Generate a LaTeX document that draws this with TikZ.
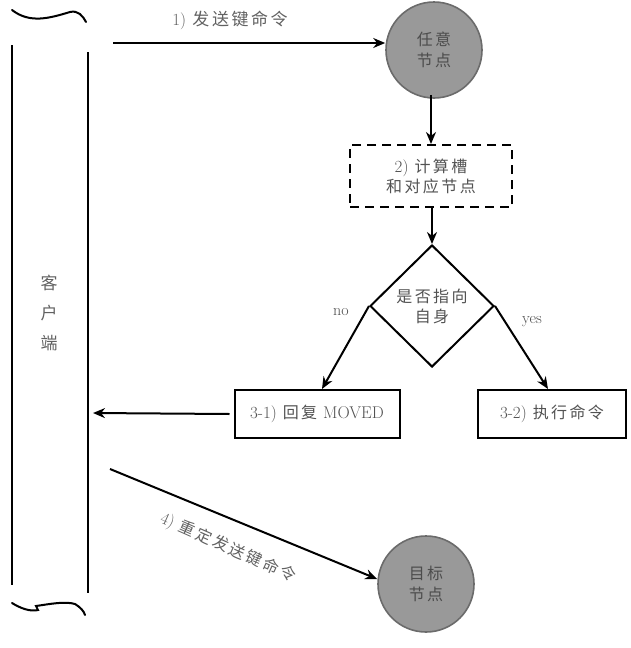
\documentclass[tikz,border=0pt]{standalone}
\usepackage{fontspec}
\newfontfamily\cjk{Noto Sans CJK SC}[LetterSpace=15]
\newcommand{\lat}[1]{{\rmfamily\fontsize{17}{20}\selectfont #1}}
\usetikzlibrary{shapes.geometric,arrows.meta}
\begin{document}
\begin{tikzpicture}[x=1pt,y=-1pt,
  line/.style={line width=2pt,black},
  arr/.style={line,-{Stealth[length=12pt,width=10pt]}},
  lbl/.style={text=black!62,font=\cjk\fontsize{16}{19}\selectfont,align=center},
  nodecirc/.style={circle,draw=black!58,line width=1.6pt,fill=black!40,minimum size=96pt,inner sep=0pt,text=black!70,font=\cjk\fontsize{16}{21}\selectfont,align=center},
  procbox/.style={draw,line width=2pt,minimum height=48pt,inner sep=2pt,text=black!68,font=\cjk\fontsize{16}{20}\selectfont,align=center},
  latin/.style={text=black!70,font=\rmfamily\fontsize{16}{18}\selectfont}]
\useasboundingbox (0,0) rectangle (631,648);
% client scroll
\node[minimum width=76pt,minimum height=548pt,inner sep=0pt] (client) at (50,319) {};
\draw[line] (12,45) -- (12,585);
\draw[line] (88,52) -- (88,593);
\draw[line,line cap=round] (12,10) .. controls (30,24) and (50,18) .. (70,12) .. controls (78,10) and (83,16) .. (86,22);
\draw[line,line cap=round] (12,603) .. controls (20,608) and (30,612) .. (38,610) -- (36,606) .. controls (50,604) and (65,601) .. (75,604) .. controls (80,607) and (84,611) .. (85,615);
\node[lbl,font=\cjk\fontsize{17}{30}\selectfont] at (49,313) {客\\户\\端};
% nodes
\node[nodecirc] (any) at (434,50) {任意\\节点};
\node[procbox,dashed,dash pattern=on 9pt off 6pt,minimum width=162pt,minimum height=62pt] (calc) at (431,176) {\lat{2)} 计算槽\\和对应节点};
\node[diamond,draw,line width=2pt,minimum width=124pt,minimum height=122pt,inner sep=0pt,text=black!68,font=\cjk\fontsize{16}{20}\selectfont,align=center] (dec) at (432,306) {是否指向\\自身};
\node[procbox,minimum width=165pt] (b31) at (317,414) {\lat{3-1)} 回复 \lat{MOVED}};
\node[procbox,minimum width=148pt] (b32) at (552,414) {\lat{3-2)} 执行命令};
\node[nodecirc] (target) at (426,584) {目标\\节点};
% connectors
\coordinate (c1) at (113,43);
\coordinate (c3) at (93,413);
\coordinate (c4) at (110,469);
\draw[arr] (c1) -- (any.west |- c1);
\node[lbl,font=\cjk\fontsize{17}{20}\selectfont] at (230,20) {\lat{1)} 发送键命令};
\draw[arr] ([yshift=4pt]any.south -| calc.north) -- (calc.north);
\draw[arr] ([yshift=2pt]calc.south -| dec.north) -- (dec.north);
\draw[arr] (dec.west) -- (b31.north -| 322,0);
\draw[arr] (dec.east) -- (b32.north -| 548,0);
\node[latin] at (341,312) {no};
\node[latin] at (532,322) {yes};
\draw[arr] ([xshift=-4pt]b31.west) -- (c3);
\draw[arr] (c4) -- (target.west |- 0,579);
\node[lbl,font=\cjk\fontsize{16}{19}\selectfont,rotate=-24] at (228,548) {\lat{4)} 重定发送键命令};
\end{tikzpicture}
\end{document}
